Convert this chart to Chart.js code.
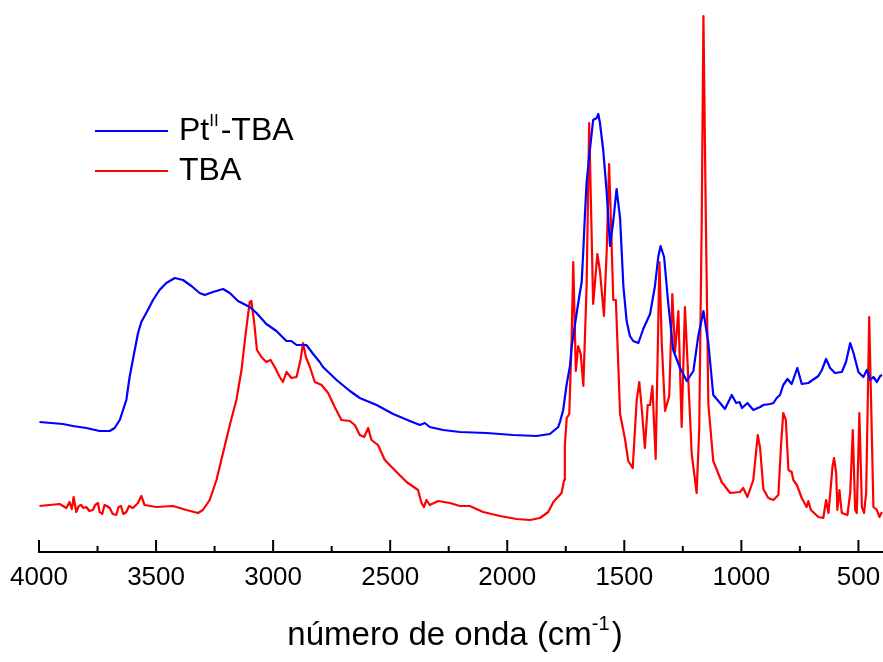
<!DOCTYPE html>
<html><head><meta charset="utf-8">
<script src="https://cdn.jsdelivr.net/npm/chart.js@4/dist/chart.umd.min.js"></script>
<style>html,body{margin:0;padding:0;background:#fff}</style>
</head><body>
<canvas id="c" width="883" height="662"></canvas>
<script>
// Series names (legend)
const seriesNames = ['Pt', 'II', '-TBA', 'TBA'];
// Pt(II)-TBA spectrum: wavenumber (cm-1) and intensity (arbitrary units)
const ptWn = [3998,3898,3855,3798,3741,3698,3677,3655,3641,3627,3613,3591,3577,3563,3535,3513,3485,3456,3420,3385,3349,3314,3292,3257,3214,3185,3150,3100,3071,3029,2986,2943,2922,2900,2858,2829,2801,2787,2729,2672,2630,2558,2487,2416,2373,2352,2331,2274,2202,2088,1975,1875,1818,1782,1775,1761,1746,1732,1725,1704,1690,1682,1675,1668,1661,1647,1633,1618,1611,1604,1590,1575,1561,1547,1533,1518,1504,1490,1476,1462,1440,1419,1390,1369,1355,1345,1330,1312,1291,1262,1233,1205,1184,1162,1141,1120,1091,1070,1041,1022,1008,997,974,949,920,906,877,863,849,835,821,803,785,761,742,714,671,656,638,621,600,571,553,535,521,500,479,464,450,436,421,407,399];
const ptAbs = [130,128,126,124,121,121,124,132,142,152,175,202,219,230,242,252,262,269,274,272,266,259,257,260,263,259,251,245,239,228,221,211,211,207,207,198,190,185,172,161,154,147,138,131,127,129,125,122,120,119,117,116,118,125,130,142,168,186,205,238,259,270,302,338,370,402,432,434,438,429,402,359,306,331,363,334,266,231,216,211,209,223,238,266,295,306,295,248,202,184,171,181,216,241,209,157,149,143,157,149,150,144,149,142,145,147,148,149,154,157,167,173,168,184,168,169,176,182,193,184,179,180,190,209,199,180,175,182,172,175,170,176,177];
// TBA spectrum
const tbaWn = [3998,3912,3883,3870,3860,3852,3841,3830,3820,3810,3798,3785,3770,3760,3748,3741,3730,3720,3710,3698,3685,3670,3660,3650,3640,3627,3615,3599,3577,3563,3549,3499,3428,3370,3321,3300,3271,3242,3214,3185,3157,3135,3117,3100,3093,3082,3069,3050,3029,3011,2993,2972,2958,2943,2922,2900,2883,2872,2860,2843,2822,2793,2765,2737,2708,2672,2651,2630,2611,2594,2580,2552,2523,2473,2430,2381,2366,2356,2345,2331,2295,2245,2202,2160,2103,2031,1960,1903,1860,1825,1803,1768,1757,1754,1746,1735,1725,1718,1707,1697,1686,1675,1661,1650,1633,1615,1604,1587,1575,1565,1558,1547,1536,1518,1497,1483,1464,1447,1436,1426,1412,1400,1390,1380,1366,1350,1340,1326,1308,1295,1283,1269,1255,1241,1231,1212,1191,1180,1169,1162,1152,1141,1120,1084,1048,1006,992,974,949,930,920,906,885,863,842,830,821,810,799,785,778,763,742,721,714,703,671,650,638,628,618,611,604,595,590,581,571,547,535,524,514,507,496,485,476,467,460,454,446,436,421,410,400];
const tbaAbs = [46,48,44,50,43,55,40,46,47,44,45,41,42,47,49,40,38,47,46,44,38,37,45,46,38,40,46,44,49,56,47,45,46,42,39,42,52,72,99,127,152,182,219,250,251,232,202,195,190,192,185,175,170,180,174,175,192,209,195,185,170,167,159,145,132,131,127,117,115,124,112,107,92,80,70,62,49,45,52,47,51,49,46,46,40,36,33,32,34,40,50,59,72,106,134,138,213,290,181,206,198,166,266,429,248,298,281,236,302,388,338,252,252,138,113,91,84,152,170,145,104,147,147,166,93,290,209,141,156,258,200,241,125,245,195,98,59,123,338,536,338,148,91,70,59,60,64,55,72,117,104,63,54,52,57,109,139,132,82,80,72,67,54,45,51,42,35,34,52,39,65,85,94,79,42,62,39,37,59,122,42,39,139,45,39,59,152,235,152,45,42,35,40];
// x-axis ticks
const tickValues = [4000,3750,3500,3250,3000,2750,2500,2250,2000,1750,1500,1250,1000,750,500];
const tickLabels = ['4000','','3500','','3000','','2500','','2000','','1500','','1000','','500'];
const xTitleParts = ['número de onda (cm', '-1', ')'];

const FONT = '"Liberation Sans", Arial, sans-serif';

const customDraw = {
  id: 'customDraw',
  afterDraw(chart) {
    const ctx = chart.ctx, x = chart.scales.x, ca = chart.chartArea;
    ctx.save();
    // inward tick marks
    ctx.strokeStyle = '#000'; ctx.lineWidth = 2;
    x.ticks.forEach((t, i) => {
      const px = x.getPixelForValue(t.value);
      const len = tickLabels[i] ? 12 : 6;
      ctx.beginPath(); ctx.moveTo(px, ca.bottom); ctx.lineTo(px, ca.bottom - len); ctx.stroke();
    });
    // legend
    const items = [
      {color: '#0000ff', y: 131, parts: [[seriesNames[0], 32, 0], [seriesNames[1], 17, -10], [seriesNames[2], 32, 0]]},
      {color: '#ff0000', y: 171, parts: [[seriesNames[3], 32, 0]]}
    ];
    ctx.textBaseline = 'middle'; ctx.textAlign = 'left'; ctx.fillStyle = '#000';
    items.forEach(it => {
      ctx.strokeStyle = it.color; ctx.lineWidth = 2;
      ctx.beginPath(); ctx.moveTo(95, it.y); ctx.lineTo(168, it.y); ctx.stroke();
      let cx = 179;
      it.parts.forEach(([txt, size, dy]) => {
        ctx.font = size + 'px ' + FONT;
        ctx.fillText(txt, cx, it.y + dy);
        cx += ctx.measureText(txt).width + (size < 30 ? 2 : 0);
      });
    });
    // x-axis title with superscript
    const big = '33px ' + FONT, small = '20px ' + FONT;
    ctx.font = big; const w1 = ctx.measureText(xTitleParts[0]).width, w3 = ctx.measureText(xTitleParts[2]).width;
    ctx.font = small; const w2 = ctx.measureText(xTitleParts[1]).width;
    const total = w1 + w2 + w3 + 2;
    let sx = (ca.left + ca.right) / 2 - total / 2 - 6;
    const ty = 636;
    ctx.fillStyle = '#000'; ctx.textBaseline = 'middle';
    ctx.font = big; ctx.fillText(xTitleParts[0], sx, ty); sx += w1;
    ctx.font = small; ctx.fillText(xTitleParts[1], sx, ty - 12); sx += w2 + 2;
    ctx.font = big; ctx.fillText(xTitleParts[2], sx, ty);
    ctx.restore();
  }
};

new Chart(document.getElementById('c'), {
  type: 'line',
  data: {
    datasets: [
      {label: 'Pt(II)-TBA', data: ptWn.map((w, i) => ({x: w, y: ptAbs[i]})), borderColor: '#0000ff', borderWidth: 2.2, pointRadius: 0, tension: 0, fill: false},
      {label: 'TBA', data: tbaWn.map((w, i) => ({x: w, y: tbaAbs[i]})), borderColor: '#ff0000', borderWidth: 2.2, pointRadius: 0, tension: 0, fill: false}
    ]
  },
  options: {
    responsive: false,
    animation: false,
    layout: {padding: {left: 39, right: 0, top: 10, bottom: 0}},
    plugins: {legend: {display: false}, tooltip: {enabled: false}},
    elements: {line: {borderJoinStyle: 'round'}},
    scales: {
      x: {
        type: 'linear', reverse: true, min: 395, max: 4000,
        afterBuildTicks: s => { s.ticks = tickValues.map(v => ({value: v})); },
        afterFit: s => { s.height = 110; s.paddingLeft = 0; s.paddingRight = 0; },
        grid: {display: false, drawTicks: false},
        border: {display: true, color: '#000', width: 2},
        ticks: {
          autoSkip: false, maxRotation: 0, padding: 10, color: '#000',
          font: {family: FONT, size: 26},
          callback: (v, i) => tickLabels[i]
        }
      },
      y: {display: false, min: 0, max: 542}
    }
  },
  plugins: [customDraw]
});
</script>
</body></html>
